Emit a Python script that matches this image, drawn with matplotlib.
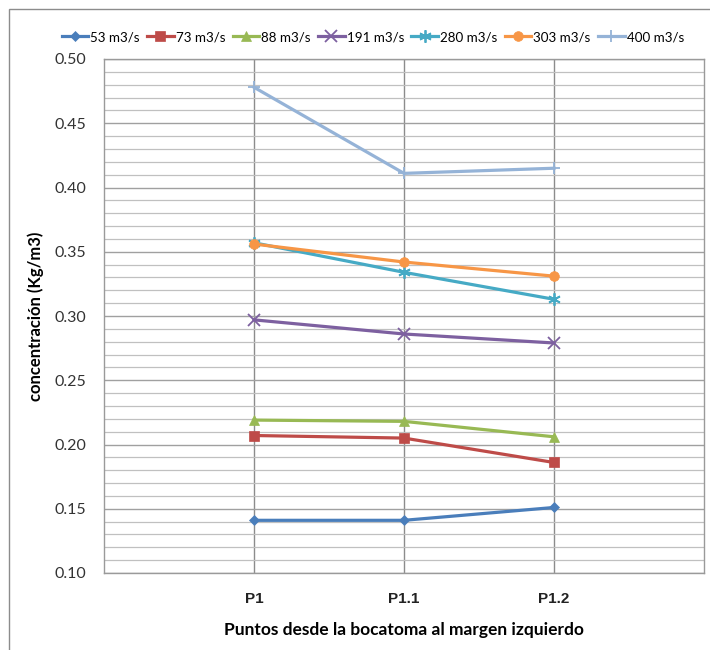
import matplotlib
matplotlib.use("Agg")
import matplotlib.pyplot as plt
from matplotlib.patches import Rectangle
from matplotlib.ticker import MultipleLocator

# puntos de muestreo y concentraciones por caudal
puntos = ["P1", "P1.1", "P1.2"]
caudales = ["53 m3/s", "73 m3/s", "88 m3/s", "191 m3/s", "280 m3/s", "303 m3/s", "400 m3/s"]
c53 = [0.141, 0.141, 0.151]
c73 = [0.207, 0.205, 0.186]
c88 = [0.219, 0.218, 0.206]
c191 = [0.297, 0.286, 0.279]
c280 = [0.357, 0.334, 0.313]
c303 = [0.356, 0.342, 0.331]
c400 = [0.478, 0.411, 0.415]

series = [c53, c73, c88, c191, c280, c303, c400]
colores = ["#4A7EBB", "#BE4B48", "#98B954", "#7D60A0", "#46AAC5", "#F79646", "#95B3D7"]
marcas = ["D", "s", "^", "x", (6, 2, 0), "o", "+"]
tamanos = [5, 7, 7, 8, 9, 7, 9]

plt.rcParams["font.family"] = ["Lato", "DejaVu Sans"]

fig = plt.figure(figsize=(7.1, 6.5), dpi=100)
ax = fig.add_axes([104 / 710, 1 - 573 / 650, 600 / 710, 514 / 650])

# marco exterior del grafico
fig.patches.append(Rectangle((9 / 710, -0.01), 1.0, 1 - 9 / 650 + 0.01,
                             transform=fig.transFigure, fill=False,
                             edgecolor="#8c8c8c", linewidth=1.0))

x = [1, 2, 3]
for vals, nombre, col, m, ms in zip(series, caudales, colores, marcas, tamanos):
    ax.plot(x, vals, color=col, marker=m, markersize=ms, linewidth=2.3,
            markeredgewidth=1.3 if m not in ("D", "s", "^", "o") else 0.5,
            markerfacecolor=col, markeredgecolor=col, label=nombre, zorder=3)

ax.set_xlim(0, 4)
ax.set_ylim(0.10, 0.50)
ax.yaxis.set_major_locator(MultipleLocator(0.05))
ax.yaxis.set_minor_locator(MultipleLocator(0.01))
ax.set_xticks(x)
ax.set_xticklabels(puntos, family="Liberation Sans", fontsize=11, fontweight="bold", color="#222222")
ax.set_yticklabels([f"{v:.2f}" for v in ax.get_yticks()])
ax.tick_params(axis="y", labelsize=11.5, colors="#333333", length=0, pad=13)
ax.tick_params(axis="x", length=0, pad=14)
ax.tick_params(which="minor", length=0)

ax.grid(which="major", axis="y", color="#a0a0a0", linewidth=1.0, zorder=0)
ax.grid(which="minor", axis="y", color="#c0c0c0", linewidth=0.9, zorder=0)
ax.grid(which="major", axis="x", color="#8c8c8c", linewidth=1.0, zorder=0)
for s in ax.spines.values():
    s.set_color("#9a9a9a")
    s.set_linewidth(1.0)

ax.set_ylabel("concentración (Kg/m3)", fontsize=12, fontweight="bold", labelpad=7)
ax.set_xlabel("Puntos desde la bocatoma al margen izquierdo", fontsize=12.5,
              fontweight="bold", labelpad=11)

leg = fig.legend(loc="center", bbox_to_anchor=(0.525, 1 - 37 / 650), ncol=7,
                 frameon=False, fontsize=9.6, handlelength=2.0, handletextpad=0.15,
                 columnspacing=0.55)

fig.savefig("out.png", dpi=100)
